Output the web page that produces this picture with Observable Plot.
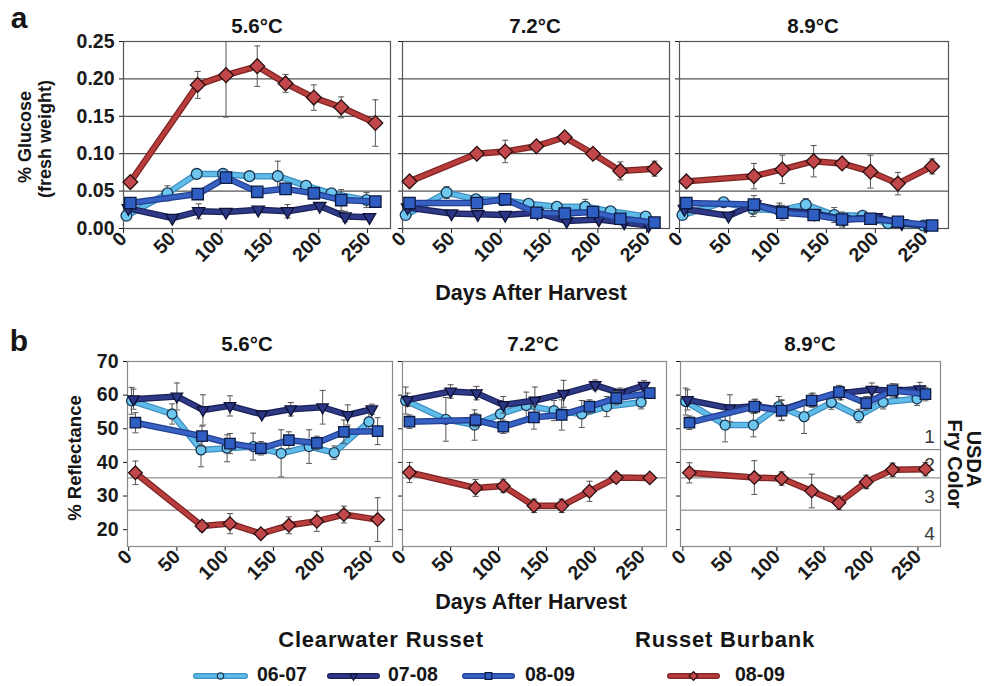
<!DOCTYPE html>
<html>
<head>
<meta charset="utf-8">
<script src="https://cdn.jsdelivr.net/npm/d3@7"></script>
<script src="https://cdn.jsdelivr.net/npm/@observablehq/plot@0.6"></script>
<style>
  body { margin: 0; background: #fff; }
  #root { position: relative; width: 985px; height: 686px; overflow: hidden; background: #fff;
          font-family: "Liberation Sans", Arial, sans-serif; }
  .abs { position: absolute; white-space: nowrap; font-weight: bold; color: #151515; line-height: 1; z-index: 2; }
</style>
</head>
<body>
<div id="root"></div>
<script>
// ---------------- DATA ----------------
const temperatures = ["5.6°C", "7.2°C", "8.9°C"];
const series = ["Clearwater Russet 06-07", "Clearwater Russet 07-08", "Clearwater Russet 08-09", "Russet Burbank 08-09"];
const legendGroups = ["Clearwater Russet", "Russet Burbank"];
const legendLabels = ["06-07", "07-08", "08-09", "08-09"];
const dayTicks = [0, 50, 100, 150, 200, 250];
const glucoseTicks = [0, 0.05, 0.10, 0.15, 0.20, 0.25];
const reflectanceTicks = [20, 30, 40, 50, 60, 70];
const fryColorBounds = [43.8, 35.4, 25.8];
const fryColorClasses = ["1", "2", "3", "4"];

const daysCW0607 = [3, 45, 75, 102, 129, 158, 187, 213, 249];
const daysCW0708 = [5, 50, 77, 105, 138, 168, 201, 227, 252];
const daysCW0809 = [7, 76, 105, 137, 166, 195, 223, 258];
const daysRB0809 = [7, 76, 105, 137, 166, 195, 223, 258];

// % glucose (fresh weight), one row per storage temperature
const glucoseCW0607 = [
  [0.017, 0.047, 0.073, 0.073, 0.070, 0.070, 0.057, 0.047, 0.038],
  [0.018, 0.048, 0.039, 0.038, 0.033, 0.029, 0.029, 0.023, 0.016],
  [0.018, 0.035, 0.026, 0.024, 0.032, 0.018, 0.017, 0.007, 0.004]];
const glucoseCW0708 = [
  [0.027, 0.014, 0.023, 0.022, 0.025, 0.023, 0.030, 0.016, 0.015],
  [0.028, 0.020, 0.019, 0.018, 0.021, 0.010, 0.012, 0.008, 0.004],
  [0.026, 0.017, 0.032, 0.024, 0.020, 0.012, 0.015, 0.007, 0.004]];
const glucoseCW0809 = [
  [0.034, 0.046, 0.068, 0.049, 0.053, 0.047, 0.038, 0.036],
  [0.034, 0.034, 0.039, 0.021, 0.020, 0.022, 0.013, 0.008],
  [0.034, 0.032, 0.021, 0.018, 0.012, 0.013, 0.009, 0.004]];
const glucoseRB0809 = [
  [0.062, 0.192, 0.205, 0.217, 0.194, 0.175, 0.162, 0.141],
  [0.063, 0.100, 0.103, 0.110, 0.122, 0.100, 0.077, 0.080],
  [0.063, 0.070, 0.079, 0.090, 0.087, 0.076, 0.060, 0.083]];

const glucoseErrCW0607 = [
  [0.005, 0.010, 0.004, 0.004, 0.003, 0.020, 0.004, 0.004, 0.010],
  [0.004, 0.008, 0.004, 0.004, 0.003, 0.004, 0.010, 0.004, 0.003],
  [0.004, 0.003, 0.010, 0.010, 0.008, 0.010, 0.004, 0.003, 0.003]];
const glucoseErrCW0708 = [
  [0.004, 0.003, 0.010, 0.003, 0.003, 0.009, 0.003, 0.007, 0.003],
  [0.003, 0.003, 0.003, 0.003, 0.003, 0.003, 0.003, 0.003, 0.003],
  [0.003, 0.003, 0.003, 0.003, 0.003, 0.003, 0.003, 0.003, 0.003]];
const glucoseErrCW0809 = [
  [0.004, 0.006, 0.004, 0.004, 0.004, 0.004, 0.014, 0.004],
  [0.003, 0.003, 0.003, 0.003, 0.003, 0.003, 0.003, 0.003],
  [0.003, 0.012, 0.010, 0.003, 0.010, 0.003, 0.003, 0.003]];
const glucoseErrRB0809 = [
  [0.004, 0.018, 0.056, 0.027, 0.012, 0.017, 0.014, 0.031],
  [0.004, 0.004, 0.015, 0.004, 0.004, 0.004, 0.012, 0.010],
  [0.004, 0.017, 0.019, 0.021, 0.004, 0.022, 0.015, 0.010]];

// % reflectance, one row per storage temperature
const reflCW0607 = [
  [58.3, 54.4, 43.7, 44.2, 44.7, 42.7, 44.7, 42.9, 52.1],
  [58.4, 52.8, 51.1, 54.4, 56.9, 55.4, 54.4, 56.6, 57.9],
  [58.1, 51.1, 51.1, 56.6, 53.6, 57.8, 53.8, 57.9, 58.9]];
const reflCW0708 = [
  [58.8, 59.6, 55.6, 56.8, 54.3, 55.8, 56.4, 54.1, 55.8],
  [58.6, 61.1, 60.6, 57.1, 58.4, 60.4, 63.0, 60.6, 62.8],
  [58.6, 56.1, 56.8, 55.6, 58.6, 60.6, 61.6, 61.3, 61.8]];
const reflCW0809 = [
  [51.8, 47.8, 45.6, 44.2, 46.6, 45.8, 49.1, 49.3],
  [52.1, 52.6, 50.6, 53.4, 54.1, 56.6, 59.1, 60.6],
  [51.8, 56.6, 55.4, 58.4, 60.9, 57.6, 61.4, 60.3]];
const reflRB0809 = [
  [36.9, 21.1, 21.8, 18.8, 21.3, 22.5, 24.5, 23.0],
  [37.0, 32.4, 33.0, 27.1, 27.1, 31.4, 35.5, 35.4],
  [36.9, 35.5, 35.2, 31.5, 28.0, 34.2, 37.8, 38.0]];

const reflErrCW0607 = [
  [4, 3, 5, 4, 4, 7, 5, 2, 3],
  [4, 6.5, 4.5, 4, 4, 3, 4, 3, 2],
  [4, 5, 3.5, 3, 5, 2, 2, 2, 2]];
const reflErrCW0708 = [
  [3, 4, 4.5, 3, 1, 2, 5, 3, 1.5],
  [2, 2, 2, 2.5, 4, 4, 1.5, 1.5, 1.5],
  [3, 4, 2, 3, 2, 2, 2, 2, 2]];
const reflErrCW0809 = [
  [3, 3, 3, 2, 2.5, 2, 3.5, 4],
  [2, 2, 2, 3.5, 4.5, 2, 2, 1.5],
  [2, 2, 3, 2, 2, 2, 2, 2]];
const reflErrRB0809 = [
  [3.5, 1.5, 3, 1, 2.5, 3, 2.5, 6.5],
  [3, 2.5, 2, 2, 2, 3, 1.5, 1],
  [3, 5, 2, 5, 2, 2, 2, 2]];

// ---------------- TABLE ----------------
const seriesDays = [daysCW0607, daysCW0708, daysCW0809, daysRB0809];
const seriesGlucose = [glucoseCW0607, glucoseCW0708, glucoseCW0809, glucoseRB0809];
const seriesGlucoseErr = [glucoseErrCW0607, glucoseErrCW0708, glucoseErrCW0809, glucoseErrRB0809];
const seriesRefl = [reflCW0607, reflCW0708, reflCW0809, reflRB0809];
const seriesReflErr = [reflErrCW0607, reflErrCW0708, reflErrCW0809, reflErrRB0809];

const rows = [];
series.forEach((s, si) => temperatures.forEach((t, ti) => seriesDays[si].forEach((day, k) => {
  rows.push({panel: "a", series: s, si, temp: t, day, value: seriesGlucose[si][ti][k], err: seriesGlucoseErr[si][ti][k]});
  rows.push({panel: "b", series: s, si, temp: t, day, value: seriesRefl[si][ti][k], err: seriesReflErr[si][ti][k]});
})));

// ---------------- STYLE ----------------
const seriesStyle = [
  {outer: "#3f8fc2", inner: "#5fbbe8", fill: "#6cc6ee", mstroke: "#1b3550", symbol: "circle", rotate: 0, r: 5.4},
  {outer: "#1b2258", inner: "#2e3987", fill: "#2b3684", mstroke: "#0e1236", symbol: "triangle", rotate: 180, r: 4.6},
  {outer: "#213f90", inner: "#3861c4", fill: "#2f5ec2", mstroke: "#0f1a40", symbol: "square", rotate: 0, r: 6.4},
  {outer: "#7c2424", inner: "#b83c3c", fill: "#c2474a", mstroke: "#2a1010", symbol: "square", rotate: 45, r: 5.9}
];
const capSymbol = {draw(ctx) { ctx.moveTo(-3, 0); ctx.lineTo(3, 0); }};

const root = document.getElementById("root");

function facet(panel, ti, fr) {
  const isA = panel === "a";
  const first = ti === 0;
  const mL = first ? 75 : 8, mR = 6, mT = 6, mB = 62;
  const W = fr.right - fr.left, H = fr.bottom - fr.top;
  const yDomain = isA ? [0, 0.25] : [15, 70];
  const data = rows.filter(d => d.panel === panel && d.temp === temperatures[ti]);
  const marks = [];
  if (isA) marks.push(Plot.ruleY(glucoseTicks.slice(1, -1), {stroke: "#555", strokeWidth: 1.3}));
  else marks.push(Plot.ruleY(fryColorBounds, {stroke: "#777", strokeWidth: 1}));
  marks.push(Plot.frame({stroke: isA ? "#555" : "#8a8a8a", strokeWidth: 1.2}));
  if (!isA && ti === 2) {
    marks.push(Plot.text(fryColorClasses, {
      y: (d, i) => i < fryColorBounds.length ? fryColorBounds[i] : yDomain[0],
      text: d => d, frameAnchor: "right", dx: -11, dy: -13, textAnchor: "middle",
      fontSize: 19, fontWeight: "normal", fill: "#3a3a3a"
    }));
  }
  series.forEach((s, si) => {
    const sd = data.filter(d => d.si === si);
    const st = seriesStyle[si];
    marks.push(Plot.line(sd, {x: "day", y: "value", stroke: st.outer, strokeWidth: 6.5, clip: true}));
    marks.push(Plot.line(sd, {x: "day", y: "value", stroke: st.inner, strokeWidth: 4, clip: true}));
    marks.push(Plot.ruleX(sd, {x: "day", y1: d => d.value - d.err, y2: d => d.value + d.err, stroke: "#555", strokeWidth: 1, clip: true}));
    marks.push(Plot.dot(sd, {x: "day", y: d => d.value + d.err, symbol: capSymbol, stroke: "#555", strokeWidth: 1, clip: true}));
    marks.push(Plot.dot(sd, {x: "day", y: d => d.value - d.err, symbol: capSymbol, stroke: "#555", strokeWidth: 1, clip: true}));
    marks.push(Plot.dot(sd, {x: "day", y: "value", symbol: st.symbol, rotate: st.rotate,
      r: isA ? st.r : st.r * 0.92, fill: st.fill, stroke: st.mstroke, strokeWidth: 1.3}));
  });
  const svg = Plot.plot({
    width: W + mL + mR, height: H + mT + mB,
    marginLeft: mL, marginRight: mR, marginTop: mT, marginBottom: mB,
    style: "background: transparent; overflow: visible; max-width: none; font-family: 'Liberation Sans', Arial, sans-serif; font-size: 19.5px; font-weight: bold; color: #1a1a1a;",
    x: {domain: fr.xDomain, ticks: dayTicks, tickFormat: d => String(d), tickRotate: -45, tickSize: 5, tickPadding: 2, label: null},
    y: {domain: yDomain, ticks: isA ? glucoseTicks : reflectanceTicks,
        tickFormat: first ? (isA ? d3.format(".2f") : d => String(d)) : () => "",
        tickSize: 4, tickPadding: 5, label: null},
    marks
  });
  svg.style.position = "absolute";
  svg.style.left = (fr.left - mL) + "px";
  svg.style.top = (fr.top - mT) + "px";
  root.appendChild(svg);
}

const framesA = [
  {left: 123, right: 390, top: 41, bottom: 228, xDomain: [0, 273.5]},
  {left: 402, right: 669, top: 41, bottom: 228, xDomain: [-0.2, 273.4]},
  {left: 679, right: 948, top: 41, bottom: 228, xDomain: [0, 274.7]}];
const framesB = [
  {left: 127, right: 392, top: 361, bottom: 546, xDomain: [-1.2, 273.4]},
  {left: 402, right: 666, top: 361, bottom: 546, xDomain: [-0.3, 275.5]},
  {left: 680, right: 940, top: 361, bottom: 546, xDomain: [-2.5, 274]}];

framesA.forEach((fr, i) => facet("a", i, fr));
framesB.forEach((fr, i) => facet("b", i, fr));

// ---------------- LEGEND SWATCHES ----------------
const swatchX = [[193, 248], [327, 380], [462, 515], [667, 720]];
const labelX = [257, 388, 525, 735];
const legendY = 675.5;
const symbolMap = {circle: d3.symbolCircle, triangle: d3.symbolTriangle, square: d3.symbolSquare};
series.forEach((s, i) => {
  const st = seriesStyle[i];
  const [x0, x1] = swatchX[i];
  const w = x1 - x0;
  const svg = d3.create("svg").attr("width", w).attr("height", 12)
    .style("position", "absolute").style("left", x0 + "px").style("top", (legendY - 6) + "px").style("overflow", "visible");
  svg.append("line").attr("x1", 3).attr("x2", w - 3).attr("y1", 6).attr("y2", 6)
    .attr("stroke", st.outer).attr("stroke-width", 6).attr("stroke-linecap", "round");
  svg.append("line").attr("x1", 3).attr("x2", w - 3).attr("y1", 6).attr("y2", 6)
    .attr("stroke", st.inner).attr("stroke-width", 3.6).attr("stroke-linecap", "round");
  svg.append("path").attr("d", d3.symbol(symbolMap[st.symbol], st.r * st.r * 1.1)())
    .attr("transform", `translate(${w / 2},6) rotate(${st.rotate})`)
    .attr("fill", st.fill).attr("stroke", st.mstroke).attr("stroke-width", 1.2);
  root.appendChild(svg.node());
});

// ---------------- TEXT ----------------
function label(text, x, y, size, opts = {}) {
  const d = document.createElement("div");
  d.className = "abs";
  d.textContent = text;
  d.style.left = x + "px";
  d.style.top = y + "px";
  d.style.fontSize = size + "px";
  if (opts.lineHeight) d.style.lineHeight = opts.lineHeight;
  if (opts.spacing) d.style.letterSpacing = opts.spacing + "px";
  const tx = opts.left ? "0" : "-50%";
  d.style.transform = `translate(${tx},-50%)` + (opts.rotate ? ` rotate(${opts.rotate}deg)` : "");
  root.appendChild(d);
}
label("a", 19, 18, 30);
label("b", 19, 341, 30);
const titleXA = [257, 535, 813], titleXB = [247, 533, 810];
temperatures.forEach((t, i) => { label(t, titleXA[i], 26, 20.5); label(t, titleXB[i], 344, 20.5); });
label("Days After Harvest", 531, 294, 21.5);
label("Days After Harvest", 531, 603, 21.5);
label("% Glucose", 25, 137, 18, {rotate: -90});
label("(fresh weight)", 45, 139, 18, {rotate: -90});
label("% Reflectance", 75, 458, 18.5, {rotate: -90});
label("USDA", 974, 459, 20, {rotate: 90});
label("Fry Color", 955, 464, 20, {rotate: 90});
label(legendGroups[0], 381, 640, 22, {spacing: 0.8});
label(legendGroups[1], 725, 640, 22, {spacing: 0.8});
legendLabels.forEach((t, i) => label(t, labelX[i], 674, 19.5, {left: true, lineHeight: "normal"}));
</script>
</body>
</html>
